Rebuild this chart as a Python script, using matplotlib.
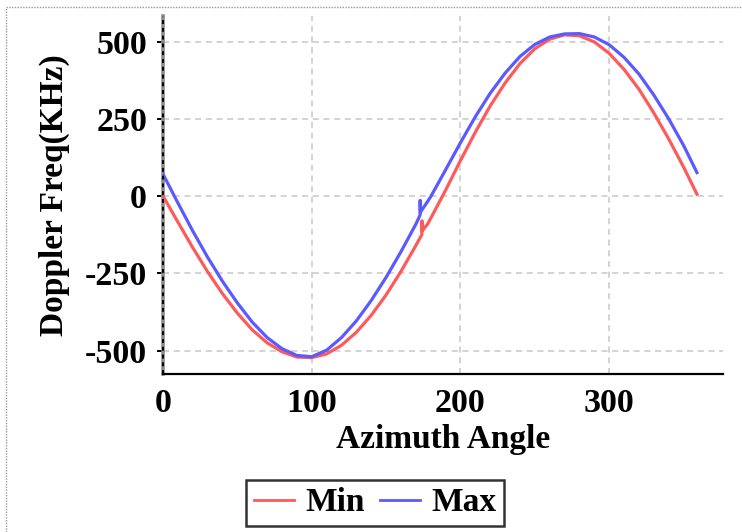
import matplotlib
matplotlib.use('Agg')
import matplotlib.pyplot as plt
from matplotlib.lines import Line2D

# ================================
# DATA
# ================================

az_min = [0, 10, 20, 30, 40, 50, 60, 70, 80, 90, 100, 110, 120, 130, 140,
          150, 160, 170, 174, 174.1, 174.3, 178, 180, 190, 200, 210, 220,
          230, 240, 250, 260, 270, 280, 290, 300, 310, 320, 330, 340, 350, 359]
freq_min = [0, -84, -167, -245, -316, -379, -433, -475, -504, -521, -523,
            -511, -483, -441, -386, -320, -244, -160, -125, -80, -112, -90,
            -72, 19, 115, 207, 292, 366, 429, 477, 508, 522, 519, 499, 462,
            410, 346, 269, 185, 94, 6]

az_max = [0, 10, 20, 30, 40, 50, 60, 70, 80, 90, 100, 110, 120, 130, 140,
          150, 160, 170, 172.8, 172.9, 173.1, 177, 180, 190, 200, 210, 220,
          230, 240, 250, 260, 270, 280, 290, 300, 310, 320, 330, 340, 350, 359]
freq_max = [71, -22, -113, -198, -276, -346, -408, -458, -494, -516, -520,
            -499, -458, -404, -338, -263, -180, -91, -62, -14, -52, -24,
            -2, 85, 173, 257, 333, 398, 452, 491, 515, 525, 526, 515, 490,
            449, 395, 327, 250, 164, 76]

yticks = [-500, -250, 0, 250, 500]
xticks = [0, 100, 200, 300]

RED = '#ff5a5a'
BLUE = '#5a5aff'
FONT = 'Liberation Serif'

# ================================
# PLOT
# ================================

fig = plt.figure(figsize=(7.42, 5.32), dpi=100)
ax = fig.add_axes([163 / 742, 1 - 374 / 532, (723 - 163) / 742, (374 - 16) / 532])

ax.plot(az_min, freq_min, color=RED, lw=2.3, label='Min', zorder=3)
ax.plot(az_max, freq_max, color=BLUE, lw=2.3, label='Max', zorder=3)

ax.set_xlim(0, 376.5)
ax.set_ylim(-576, 583)
ax.set_xticks(xticks)
ax.set_yticks(yticks)
ax.set_yticklabels([str(v) for v in yticks])

ax.grid(True, color='#c8c8c8', ls=(0, (4, 3)), lw=1.1)
ax.set_axisbelow(True)

for s in ['top', 'right']:
    ax.spines[s].set_visible(False)
ax.spines['bottom'].set_color('black')
ax.spines['bottom'].set_linewidth(1.6)
ax.spines['left'].set_color('#8c8c8c')
ax.spines['left'].set_linewidth(2.6)
ax.axvline(0, color='black', lw=1.4, ls=(0, (2, 2)), zorder=4, clip_on=False)

ax.tick_params(axis='y', length=4.5, width=1.4, color='black', pad=7)
ax.tick_params(axis='x', length=0, pad=10)
for lab in ax.get_xticklabels() + ax.get_yticklabels():
    lab.set_fontfamily(FONT)
    lab.set_fontweight('bold')
    lab.set_fontsize(24.5)

ax.set_xlabel('Azimuth Angle', fontfamily=FONT, fontweight='bold',
              fontsize=24, labelpad=4)
ax.set_ylabel('Doppler Freq(KHz)', fontfamily=FONT, fontweight='bold',
              fontsize=24, labelpad=11)

leg = fig.legend(loc='upper center', bbox_to_anchor=(375 / 742, 1 - 480 / 532),
                 ncol=2, frameon=True, fancybox=False, edgecolor='black',
                 prop={'family': FONT, 'weight': 'bold', 'size': 24},
                 handlelength=1.2, handletextpad=0.35, columnspacing=0.45,
                 borderpad=0.22, borderaxespad=0)
leg.get_frame().set_linewidth(1.8)
for h in leg.get_lines():
    h.set_linewidth(2.0)

# dotted border of the figure panel
fig.add_artist(Line2D([5.5 / 742, 5.5 / 742], [0, 1 - 6.5 / 532],
                      transform=fig.transFigure, color='#9a9a9a', lw=1,
                      ls=(0, (1, 1))))
fig.add_artist(Line2D([5.5 / 742, 1], [1 - 6.5 / 532, 1 - 6.5 / 532],
                      transform=fig.transFigure, color='#9a9a9a', lw=1,
                      ls=(0, (1, 1))))

fig.savefig('out.png', dpi=100)
